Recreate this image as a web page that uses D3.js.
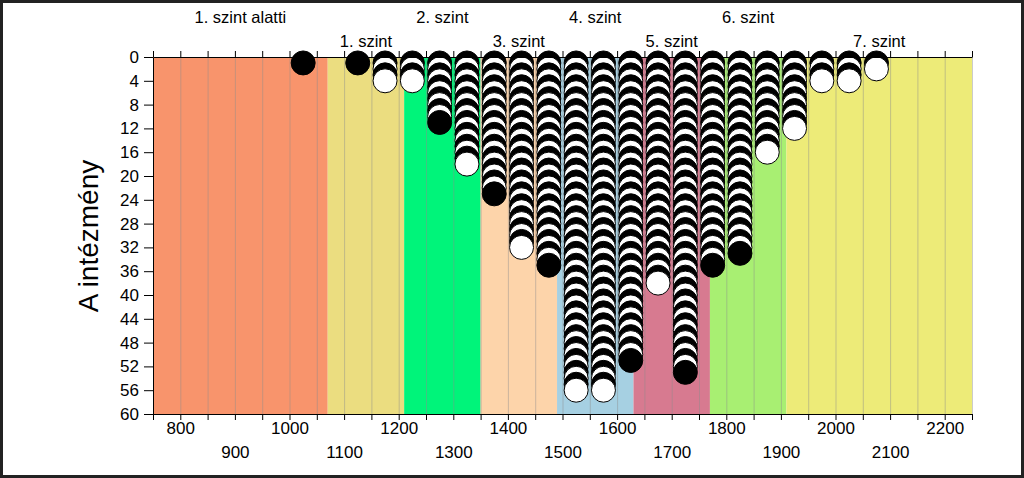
<!DOCTYPE html>
<html>
<head>
<meta charset="utf-8">
<script src="https://cdn.jsdelivr.net/npm/d3@7"></script>
<style>
  body { margin: 0; background: #fff; }
  svg { display: block; font-family: "Liberation Sans", Arial, sans-serif; }
  .axis path, .axis line { stroke: #000; }
  .axis text { font-size: 17px; fill: #000; font-family: "Liberation Sans", Arial, sans-serif; }
</style>
</head>
<body>
<div id="chart"></div>
<script>
// level bands (score limits) and names
const levelNames = ["1. szint alatti", "1. szint", "2. szint", "3. szint", "4. szint", "5. szint", "6. szint", "7. szint"];
const levelLimits = [750, 1070, 1210, 1350, 1490, 1630, 1770, 1910, 2250];
const levelColors = ["#F8946C", "#EBDD80", "#00F47A", "#FDD4AA", "#A6D0E2", "#D77A90", "#A8EF72", "#EDEB78"];

// score columns and number of dots in each
const columnScores = [1025, 1075, 1125, 1175, 1225, 1275, 1325, 1375, 1425, 1475, 1525, 1575, 1625, 1675, 1725, 1775, 1825, 1875, 1925, 1975, 2025, 2075];
const columnCounts = [1, 0, 1, 4, 4, 11, 18, 23, 32, 35, 56, 56, 51, 38, 53, 35, 33, 16, 12, 4, 4, 2];

// tick labels
const xTicks = [750, 800, 850, 900, 950, 1000, 1050, 1100, 1150, 1200, 1250, 1300, 1350, 1400, 1450, 1500, 1550, 1600, 1650, 1700, 1750, 1800, 1850, 1900, 1950, 2000, 2050, 2100, 2150, 2200, 2250];
const xLabelsUpper = [800, 1000, 1200, 1400, 1600, 1800, 2000, 2200];
const xLabelsLower = [900, 1100, 1300, 1500, 1700, 1900, 2100];
const yTicks = [0, 4, 8, 12, 16, 20, 24, 28, 32, 36, 40, 44, 48, 52, 56, 60];

const W = 1024, H = 478;

const svg = d3.select("#chart").append("svg")
    .attr("width", W)
    .attr("height", H);

const x = d3.scaleLinear().domain([750, 2250]).range([153, 972]);
const y = d3.scaleLinear().domain([0, 60]).range([57, 414]);

// colored level bands
const bands = levelNames.map((name, i) => ({ name: name, from: levelLimits[i], to: levelLimits[i + 1], color: levelColors[i], i: i }));

svg.append("g").selectAll("rect")
    .data(bands)
    .join("rect")
    .attr("x", d => x(d.from))
    .attr("y", y(0))
    .attr("width", d => x(d.to) - x(d.from))
    .attr("height", y(60) - y(0))
    .attr("fill", d => d.color);

// vertical grid lines
svg.append("g").selectAll("line")
    .data(xTicks.slice(1))
    .join("line")
    .attr("x1", d => x(d) + 0.5)
    .attr("x2", d => x(d) + 0.5)
    .attr("y1", y(0))
    .attr("y2", y(60))
    .attr("stroke", "#8c8c8c")
    .attr("stroke-opacity", 0.45)
    .attr("stroke-width", 1);

// level names above chart, alternating rows
svg.append("g").selectAll("text")
    .data(bands)
    .join("text")
    .attr("x", d => x((d.from + d.to) / 2))
    .attr("y", d => d.i % 2 === 0 ? 23 : 47)
    .attr("text-anchor", "middle")
    .style("font-size", "16.5px")
    .text(d => d.name);

// dot stacks
const dots = [];
columnScores.forEach((s, ci) => {
    for (let k = 1; k <= columnCounts[ci]; k++) {
        dots.push({ score: s, k: k });
    }
});

svg.append("g").selectAll("circle")
    .data(dots)
    .join("circle")
    .attr("cx", d => x(d.score))
    .attr("cy", d => y(d.k))
    .attr("r", 12)
    .attr("fill", d => d.k % 2 === 1 ? "#000" : "#fff")
    .attr("stroke", "#000")
    .attr("stroke-width", 1);

// axes
const xAxisBottom = d3.axisBottom(x)
    .tickValues(xTicks)
    .tickSize(6)
    .tickSizeOuter(0)
    .tickFormat(d => (xLabelsUpper.includes(d) || xLabelsLower.includes(d)) ? d : "");

const gxb = svg.append("g")
    .attr("class", "axis")
    .attr("transform", `translate(0, ${y(60)})`)
    .call(xAxisBottom);

gxb.selectAll(".tick text")
    .attr("y", d => xLabelsLower.includes(d) ? 32 : 8);

const xAxisTop = d3.axisTop(x)
    .tickValues(xTicks)
    .tickSize(6)
    .tickSizeOuter(0)
    .tickFormat("");

svg.append("g")
    .attr("class", "axis")
    .attr("transform", `translate(0, ${y(0)})`)
    .call(xAxisTop);

const yAxis = d3.axisLeft(y)
    .tickValues(yTicks)
    .tickSize(9)
    .tickPadding(5)
    .tickSizeOuter(0);

svg.append("g")
    .attr("class", "axis")
    .attr("transform", `translate(${x(750)}, 0)`)
    .call(yAxis);

// y axis title
svg.append("text")
    .attr("transform", "rotate(-90)")
    .attr("x", -236)
    .attr("y", 98)
    .attr("text-anchor", "middle")
    .style("font-size", "28px")
    .text("A intézmény");

// outer frame
svg.append("rect")
    .attr("x", 1.5)
    .attr("y", 1.5)
    .attr("width", W - 3)
    .attr("height", H - 3)
    .attr("fill", "none")
    .attr("stroke", "#222")
    .attr("stroke-width", 3);
</script>
</body>
</html>
